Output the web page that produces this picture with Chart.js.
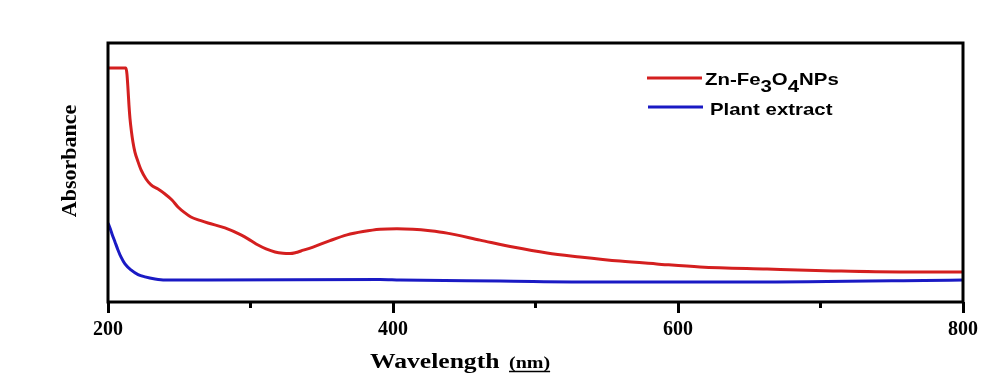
<!DOCTYPE html>
<html>
<head>
<meta charset="utf-8">
<script src="https://cdn.jsdelivr.net/npm/chart.js@4.4.1/dist/chart.umd.min.js"></script>
<style>
  html, body { margin: 0; padding: 0; background: #fff; }
  #wrap { width: 997px; height: 383px; }
</style>
</head>
<body>
<div id="wrap"><canvas id="uvChart" width="997" height="383"></canvas></div>
<script>
// values (absorbance in arbitrary units, 0..1 = plot height)
const nanoWavelength = [200, 212.6, 213.3, 214.0, 214.7, 215.4, 216.5, 217.5, 218.9, 221.1, 223.2, 226.7, 230.2, 235.1, 240.0, 244.9, 249.1, 254.0, 258.2, 264.6, 270.2, 282.1, 293.3, 299.7, 305.3, 310.9, 317.2, 322.8, 327.7, 331.9, 335.4, 343.9, 355.8, 367.7, 379.0, 390.9, 402.8, 414.0, 426.0, 437.9, 461.1, 484.2, 508.1, 531.2, 559.3, 585, 615.4, 662.5, 708.8, 755.8, 800];
const nanoAbsorbance = [0.903, 0.903, 0.880, 0.826, 0.761, 0.710, 0.656, 0.618, 0.579, 0.541, 0.510, 0.475, 0.452, 0.436, 0.417, 0.394, 0.367, 0.344, 0.328, 0.315, 0.305, 0.286, 0.259, 0.239, 0.220, 0.205, 0.193, 0.188, 0.187, 0.191, 0.197, 0.212, 0.237, 0.259, 0.272, 0.281, 0.283, 0.281, 0.275, 0.266, 0.239, 0.212, 0.189, 0.174, 0.158, 0.147, 0.135, 0.127, 0.120, 0.116, 0.116];

const plantWavelength = [200, 201.4, 202.8, 204.9, 207.0, 209.1, 211.9, 216.1, 221.1, 226.0, 233.0, 240, 270, 391, 405, 475, 545, 650, 800];
const plantAbsorbance = [0.305, 0.286, 0.263, 0.232, 0.201, 0.174, 0.147, 0.124, 0.106, 0.097, 0.089, 0.085, 0.085, 0.087, 0.085, 0.081, 0.077, 0.077, 0.085];

const minorTicks = [300, 500, 700];
const xMin = 200, xMax = 800, xStep = 200;

const RED = '#d41f1f';
const BLUE = '#1a1ac4';

function toPoints(xs, ys) {
    return xs.map((x, i) => ({ x: x, y: ys[i] }));
}

// frame, minor ticks, axis titles and legend
const decorations = {
    id: 'decorations',
    afterDraw(chart) {
        const ctx = chart.ctx;
        const area = chart.chartArea;
        const xScale = chart.scales.x;

        ctx.save();
        ctx.strokeStyle = '#000';
        ctx.lineWidth = 3;
        ctx.strokeRect(area.left, area.top, area.right - area.left, area.bottom - area.top);

        // short minor ticks
        minorTicks.forEach(v => {
            const px = xScale.getPixelForValue(v);
            ctx.beginPath();
            ctx.moveTo(px, area.bottom);
            ctx.lineTo(px, area.bottom + 6);
            ctx.stroke();
        });

        // x title
        ctx.fillStyle = '#000';
        ctx.textBaseline = 'alphabetic';
        ctx.save();
        ctx.translate(370, 368);
        ctx.scale(1.28, 1);
        ctx.font = 'bold 20px "Liberation Serif"';
        ctx.fillText('Wavelength', 0, 0);
        ctx.restore();

        ctx.save();
        ctx.translate(509, 368);
        ctx.scale(1.25, 1);
        ctx.font = 'bold 16px "Liberation Serif"';
        ctx.fillText('(nm)', 0, 0);
        const w = ctx.measureText('(nm)').width;
        ctx.restore();
        ctx.lineWidth = 1.5;
        ctx.beginPath();
        ctx.moveTo(509, 371.5);
        ctx.lineTo(509 + w * 1.25, 371.5);
        ctx.stroke();

        // y title
        ctx.save();
        ctx.translate(76, 161);
        ctx.rotate(-Math.PI / 2);
        ctx.font = 'bold 22px "Liberation Serif"';
        ctx.textAlign = 'center';
        ctx.fillText('Absorbance', 0, 0);
        ctx.restore();

        // legend
        ctx.lineWidth = 3;
        ctx.strokeStyle = RED;
        ctx.beginPath();
        ctx.moveTo(647, 78);
        ctx.lineTo(702, 78);
        ctx.stroke();
        ctx.strokeStyle = BLUE;
        ctx.beginPath();
        ctx.moveTo(648, 107);
        ctx.lineTo(703, 107);
        ctx.stroke();

        ctx.fillStyle = '#000';
        const parts = [
            ['Zn-Fe', 0], ['3', 1], ['O', 0], ['4', 1], ['NPs', 0]
        ];
        ctx.save();
        ctx.translate(705, 85);
        ctx.scale(1.2, 1);
        let cx = 0;
        parts.forEach(p => {
            ctx.font = 'bold 17px "Liberation Sans"';
            ctx.fillText(p[0], cx, p[1] ? 7 : 0);
            cx += ctx.measureText(p[0]).width;
        });
        ctx.restore();

        ctx.save();
        ctx.translate(710, 115);
        ctx.scale(1.2, 1);
        ctx.font = 'bold 17px "Liberation Sans"';
        ctx.fillText('Plant extract', 0, 0);
        ctx.restore();

        ctx.restore();
    }
};

const config = {
    type: 'line',
    data: {
        datasets: [
            {
                label: 'Zn-Fe3O4NPs',
                data: toPoints(nanoWavelength, nanoAbsorbance),
                borderColor: RED,
                borderWidth: 3,
                pointRadius: 0,
                cubicInterpolationMode: 'monotone'
            },
            {
                label: 'Plant extract',
                data: toPoints(plantWavelength, plantAbsorbance),
                borderColor: BLUE,
                borderWidth: 3,
                pointRadius: 0,
                cubicInterpolationMode: 'monotone'
            }
        ]
    },
    options: {
        responsive: false,
        animation: false,
        layout: { padding: { left: 108, right: 34, top: 43, bottom: 0 } },
        plugins: {
            legend: { display: false },
            tooltip: { enabled: false }
        },
        scales: {
            x: {
                type: 'linear',
                min: xMin,
                max: xMax,
                border: { display: false },
                grid: {
                    drawOnChartArea: false,
                    drawTicks: true,
                    tickLength: 11,
                    tickWidth: 3,
                    tickColor: '#000'
                },
                ticks: {
                    stepSize: xStep,
                    color: '#000',
                    padding: 5,
                    maxRotation: 0,
                    font: { family: '"Liberation Serif"', size: 20, weight: 'bold' }
                },
                afterFit(scale) { scale.height = 81; }
            },
            y: {
                display: false,
                min: 0,
                max: 1
            }
        }
    },
    plugins: [decorations]
};

const uvChart = new Chart(document.getElementById('uvChart').getContext('2d'), config);
</script>
</body>
</html>
